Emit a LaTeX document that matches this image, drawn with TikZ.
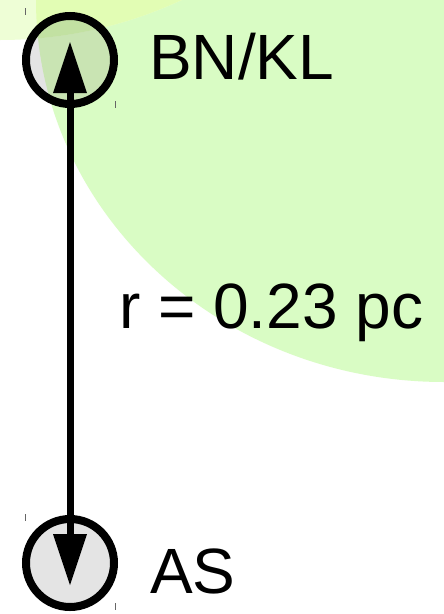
\documentclass[tikz,border=0pt]{standalone}
\usepackage{fontspec}
\setmainfont{Liberation Sans}
\usetikzlibrary{arrows.meta}
\pgfdeclarelayer{background}
\pgfsetlayers{background,main}
\definecolor{biggreen}{HTML}{D9FCC4}
\definecolor{palegreen}{HTML}{EEFED6}
\definecolor{overlapgreen}{HTML}{E2FDB4}
\definecolor{nodegray}{HTML}{E4E4E4}
\definecolor{nodebig}{HTML}{C9E4B3}
\definecolor{nodepale}{HTML}{D6E6C2}
\definecolor{nodeboth}{HTML}{C2E1A2}
\definecolor{tickgray}{HTML}{666666}
\tikzset{
  site/.style={circle, draw=black, line width=8pt, minimum size=88pt, inner sep=0pt},
  lbl/.style={anchor=base west, inner sep=0pt, font=\fontsize{64}{64}\selectfont},
  distarrow/.style={line width=7pt, {Triangle[length=51pt,width=34pt,line width=0pt]}-{Triangle[length=51pt,width=34pt,line width=0pt]}},
  cropmark/.style={draw=tickgray, line width=1pt},
}
\begin{document}
\begin{tikzpicture}[x=1pt,y=-1pt]
\useasboundingbox (0,0) rectangle (444,614);
\node[site] (bn) at (70,60) {};
\node[site] (as) at (70,563) {};
\node[lbl] (bnl) at (149,79) {BN/KL};
\node[lbl] (asl) at (150,593) {AS};
\node[lbl] (rl) at (119,328) {r = 0.23 pc};
\draw[distarrow] ([yshift=18pt]bn.center) -- ([yshift=-22pt]as.center);
\draw[cropmark] (25,8) -- (25,15);
\draw[cropmark] (115,101) -- (115,108);
\draw[cropmark] (25,514) -- (25,521);
\draw[cropmark] (115,603) -- (115,610);
\begin{pgfonlayer}{background}
  \clip (0,0) rectangle (444,614);
  \fill[white] (0,0) rectangle (444,614);
  \fill[biggreen] (444,0) ellipse [x radius=408pt, y radius=382pt];
  \fill[palegreen] (0,-392) circle [radius=432pt];
  \begin{scope}
    \clip (444,0) ellipse [x radius=408pt, y radius=382pt];
    \fill[overlapgreen] (0,-392) circle [radius=432pt];
  \end{scope}
  \fill[nodegray] (bn.center) circle [radius=44pt];
  \fill[nodegray] (as.center) circle [radius=44pt];
  \begin{scope}
    \clip (bn.center) circle [radius=44pt];
    \fill[nodebig] (444,0) ellipse [x radius=408pt, y radius=382pt];
    \fill[nodepale] (0,-392) circle [radius=432pt];
    \clip (444,0) ellipse [x radius=408pt, y radius=382pt];
    \fill[nodeboth] (0,-392) circle [radius=432pt];
  \end{scope}
\end{pgfonlayer}
\end{tikzpicture}
\end{document}
